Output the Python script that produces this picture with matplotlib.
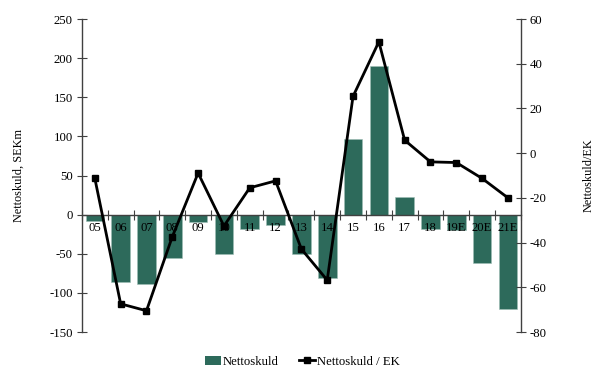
import numpy as np
import matplotlib
matplotlib.use('Agg')
import matplotlib.pyplot as plt
from matplotlib.lines import Line2D
from matplotlib.patches import Patch

# Data
years = ['05', '06', '07', '08', '09', '10', '11', '12', '13', '14',
         '15', '16', '17', '18', '19E', '20E', '21E']
net_debt = [-8, -86, -89, -55, -10, -50, -18, -13, -50, -81,
            97, 190, 23, -18, -20, -62, -121]
net_debt_equity = [-11.3, -67.4, -70.5, -37.4, -8.9, -32.6, -15.5, -12.4, -42.9, -56.8,
                   25.4, 49.8, 5.8, -3.9, -4.2, -11.3, -20.0]

plt.rcParams['font.family'] = ['Liberation Serif', 'DejaVu Serif']
plt.rcParams['font.size'] = 9.2
plt.rcParams['axes.unicode_minus'] = False

bar_color = '#2d6a5b'
axis_color = '#404040'

fig = plt.figure(figsize=(5.98, 3.70), dpi=100)
ax = fig.add_axes([0.137, 0.1027, 0.734, 0.8459])
ax2 = ax.twinx()

x = np.arange(len(years))
ax.bar(x, net_debt, width=0.72, color=bar_color, edgecolor='#9fbdb5', linewidth=0.4)
ax2.plot(x, net_debt_equity, color='black', linewidth=2.0, marker='s',
         markersize=5, markerfacecolor='black')

ax.set_xlim(-0.5, len(years) - 0.5)
ax.set_ylim(-150, 250)
ax.set_yticks(np.arange(-150, 251, 50))
ax2.set_ylim(-80, 60)
ax2.set_yticks(np.arange(-80, 61, 20))

# x axis sits on zero, ticks between categories, labels at centers
ax.spines['bottom'].set_position(('data', 0))
ax.spines['top'].set_visible(False)
ax.set_xticks(np.arange(-0.5, len(years), 1.0))
ax.set_xticklabels([])
ax.set_xticks(x, minor=True)
ax.set_xticklabels(years, minor=True)
ax.tick_params(axis='x', which='major', direction='inout', length=7, color=axis_color)
ax.tick_params(axis='x', which='minor', length=0, pad=5)
ax.tick_params(axis='y', direction='inout', length=7, color=axis_color, pad=3)

for s in ['top', 'bottom', 'left']:
    ax2.spines[s].set_visible(False)
ax2.tick_params(axis='y', direction='inout', length=7, color=axis_color, pad=3)
for sp in [ax.spines['left'], ax.spines['bottom'], ax2.spines['right']]:
    sp.set_color(axis_color)
    sp.set_linewidth(1.0)
ax.spines['right'].set_visible(False)

ax.set_ylabel('Nettoskuld, SEKm', labelpad=18, fontsize=8.8)
ax2.set_ylabel('Nettoskuld/EK', labelpad=26, fontsize=8.8)

handles = [Patch(facecolor=bar_color, label='Nettoskuld'),
           Line2D([0], [0], color='black', linewidth=2.0, marker='s', markersize=5,
                  label='Nettoskuld / EK')]
fig.legend(handles=handles, loc='center', bbox_to_anchor=(0.505, 0.022), ncol=2,
           frameon=False, handlelength=1.3, handletextpad=0.1, columnspacing=1.6)

fig.savefig('out.png', dpi=100)
